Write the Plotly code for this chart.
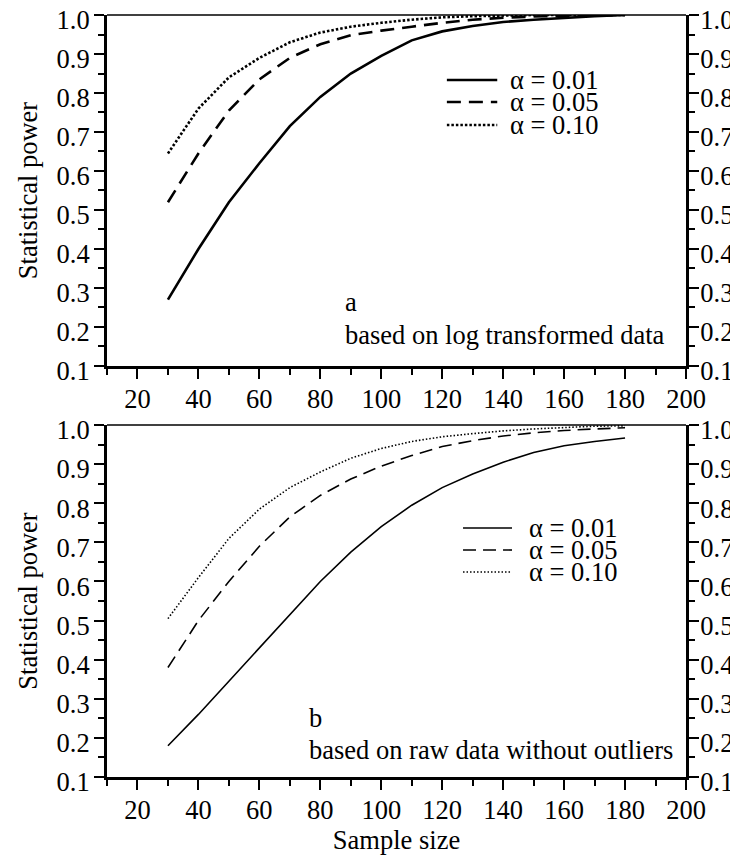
import plotly.graph_objects as go

sample_size = [30, 40, 50, 60, 70, 80, 90, 100, 110, 120, 130, 140, 150, 160, 170, 180]

# Panel a: based on log transformed data
a_alpha001 = [0.27, 0.40, 0.52, 0.62, 0.715, 0.79, 0.85, 0.895, 0.935, 0.958, 0.972, 0.982, 0.988, 0.993, 0.997, 1.0]
a_alpha005 = [0.52, 0.645, 0.755, 0.835, 0.89, 0.925, 0.948, 0.96, 0.97, 0.98, 0.988, 0.993, 0.996, 0.998, 0.999, 1.0]
a_alpha010 = [0.645, 0.76, 0.84, 0.89, 0.93, 0.955, 0.97, 0.98, 0.988, 0.994, 0.997, 0.999, 1.0, 1.0, 1.0, 1.0]

# Panel b: based on raw data without outliers
b_alpha001 = [0.18, 0.26, 0.345, 0.43, 0.515, 0.60, 0.675, 0.74, 0.795, 0.84, 0.875, 0.905, 0.93, 0.947, 0.958, 0.967]
b_alpha005 = [0.38, 0.50, 0.60, 0.69, 0.765, 0.82, 0.862, 0.895, 0.922, 0.945, 0.96, 0.972, 0.98, 0.986, 0.99, 0.993]
b_alpha010 = [0.505, 0.61, 0.71, 0.785, 0.84, 0.88, 0.915, 0.94, 0.958, 0.97, 0.978, 0.985, 0.99, 0.994, 0.997, 0.998]

series_names = ["α = 0.01", "α = 0.05", "α = 0.10"]
x_ticks = [20, 40, 60, 80, 100, 120, 140, 160, 180, 200]
y_ticks = [0.1, 0.2, 0.3, 0.4, 0.5, 0.6, 0.7, 0.8, 0.9, 1.0]

FONT = "Liberation Serif"
FS = 26.5

fig = go.Figure()

panel_a = [a_alpha001, a_alpha005, a_alpha010]
panel_b = [b_alpha001, b_alpha005, b_alpha010]
dash_a = ["solid", "14px,8px", "2.5px,2px"]
dash_b = ["solid", "13px,7px", "1.5px,2px"]
width_a = 2.6
width_b = 1.6

for vals, name, d in zip(panel_a, series_names, dash_a):
    fig.add_trace(go.Scatter(x=sample_size, y=vals, mode="lines", name=name,
                             line=dict(color="black", width=width_a, dash=d),
                             xaxis="x", yaxis="y", showlegend=False))
for vals, name, d in zip(panel_b, series_names, dash_b):
    fig.add_trace(go.Scatter(x=sample_size, y=vals, mode="lines", name=name,
                             line=dict(color="black", width=width_b, dash=d),
                             xaxis="x2", yaxis="y2", showlegend=False))

# invisible traces to carry the right-hand y axes
fig.add_trace(go.Scatter(x=[sample_size[0]], y=[a_alpha001[0]], mode="markers", opacity=0,
                         showlegend=False, hoverinfo="skip", xaxis="x", yaxis="y3"))
fig.add_trace(go.Scatter(x=[sample_size[0]], y=[b_alpha001[0]], mode="markers", opacity=0,
                         showlegend=False, hoverinfo="skip", xaxis="x2", yaxis="y4"))

dom_a = [0.5394, 1.0]
dom_b = [0.0, 0.4619]

xcommon = dict(range=[10, 200], tickvals=x_ticks, ticks="outside", ticklen=10, tickwidth=2,
               tickcolor="black", showline=True, linewidth=3, linecolor="black",
               showgrid=False, zeroline=False, automargin=False, ticklabelstandoff=-3,
               ticklabeloverflow="allow",
               tickfont=dict(family=FONT, size=FS, color="black"),
               minor=dict(dtick=10, tick0=10, ticks="outside", ticklen=6, tickwidth=2,
                          tickcolor="black", showgrid=False))
ycommon = dict(range=[0.1, 1.0], tickvals=y_ticks, tickformat=".1f", ticks="outside",
               ticklen=10, tickwidth=2, tickcolor="black", showline=True, linewidth=3,
               linecolor="black", showgrid=False, zeroline=False, automargin=False,
               ticklabelshift=5, ticklabeloverflow="allow",
               tickfont=dict(family=FONT, size=FS, color="black"),
               minor=dict(dtick=0.05, tick0=0.1, ticks="outside", ticklen=6, tickwidth=2,
                          tickcolor="black", showgrid=False))

# the page body has an 8px margin: the figure is sized so the page does not scroll
fig.update_layout(
    width=730, height=849,
    margin=dict(l=99, r=52, t=7, b=80, autoexpand=False),
    paper_bgcolor="white", plot_bgcolor="white",
    font=dict(family=FONT, size=FS, color="black"),
    xaxis=dict(**xcommon, domain=[0, 1], anchor="y"),
    xaxis2=dict(**xcommon, domain=[0, 1], anchor="y2",
                title=dict(text="Sample size", font=dict(family=FONT, size=FS), standoff=6)),
    yaxis=dict(**ycommon, domain=dom_a, anchor="x", ticklabelstandoff=-1,
               title=dict(text="Statistical power", font=dict(family=FONT, size=FS), standoff=12)),
    yaxis2=dict(**ycommon, domain=dom_b, anchor="x2", ticklabelstandoff=-1,
                title=dict(text="Statistical power", font=dict(family=FONT, size=FS), standoff=12)),
    yaxis3=dict(**ycommon, domain=dom_a, anchor="x", overlaying="y", side="right",
                ticklabelstandoff=-4),
    yaxis4=dict(**ycommon, domain=dom_b, anchor="x2", overlaying="y2", side="right",
                ticklabelstandoff=-4),
    showlegend=False,
)

# thin top border of each panel
for xr, yr in [("x domain", "y domain"), ("x2 domain", "y2 domain")]:
    fig.add_shape(type="line", xref=xr, yref=yr, x0=0, x1=1, y0=1, y1=1,
                  line=dict(color="black", width=1.5))

# compact legends (key line + label), one per panel
legend_specs = [
    (dict(x0=0.587, x1=0.674, xt=0.6926, rows=[0.9147, 0.8858, 0.8556]), dash_a, width_a),
    (dict(x0=0.6149, x1=0.6995, xt=0.7254, rows=[0.3268, 0.2979, 0.2690]), dash_b, width_b),
]
for spec, dashes, w in legend_specs:
    for name, d, yr_ in zip(series_names, dashes, spec["rows"]):
        fig.add_shape(type="line", xref="paper", yref="paper",
                      x0=spec["x0"], x1=spec["x1"], y0=yr_, y1=yr_,
                      line=dict(color="black", width=w, dash=d))
        fig.add_annotation(xref="paper", yref="paper", x=spec["xt"], y=yr_, text=name,
                           showarrow=False, xanchor="left", yanchor="middle",
                           font=dict(family=FONT, size=FS, color="black"))

ann = [
    ("x", "y", 87.5, 0.264, "a"),
    ("x", "y", 87.5, 0.179, "based on log transformed data"),
    ("x2", "y2", 75.6, 0.251, "b"),
    ("x2", "y2", 75.6, 0.169, "based on raw data without outliers"),
]
for xr, yr, xv, yv, txt in ann:
    fig.add_annotation(xref=xr, yref=yr, x=xv, y=yv, text=txt, showarrow=False,
                       xanchor="left", yanchor="middle",
                       font=dict(family=FONT, size=FS, color="black"))

fig.write_html("out.html")
